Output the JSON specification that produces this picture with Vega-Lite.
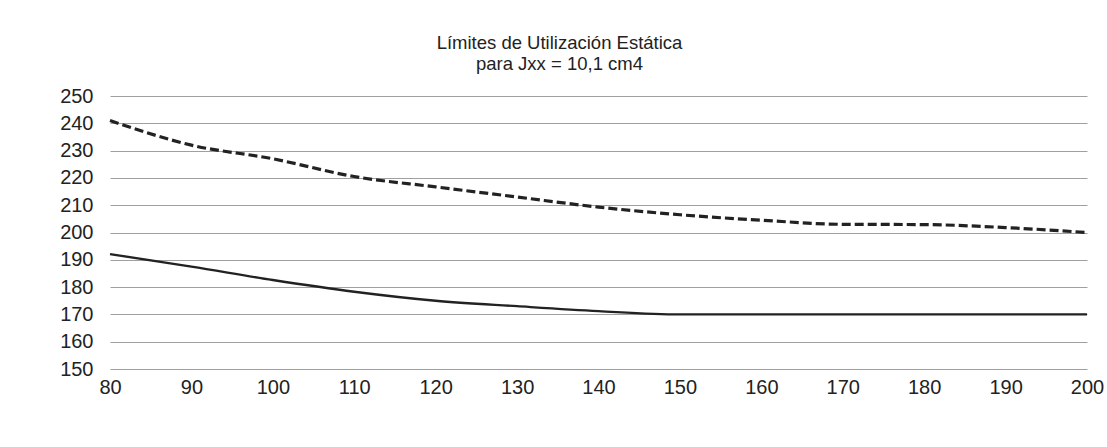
{
  "$schema": "https://vega.github.io/schema/vega-lite/v6.json",
  "width": 977,
  "height": 273,
  "autosize": {"type": "none"},
  "padding": {"left": 110, "top": 96, "right": 20, "bottom": 78},
  "background": "white",
  "title": {
    "text": ["Límites de Utilización Estática", "para Jxx = 10,1 cm4"],
    "font": "Liberation Sans",
    "fontSize": 18.5,
    "fontWeight": "normal",
    "color": "#222222",
    "lineHeight": 20.5,
    "anchor": "middle",
    "dx": -39,
    "offset": 13
  },
  "data": {
    "values": [
      {"x": 80, "serie": "dashed", "y": 241},
      {"x": 90, "serie": "dashed", "y": 232},
      {"x": 100, "serie": "dashed", "y": 227},
      {"x": 110, "serie": "dashed", "y": 220.5},
      {"x": 120, "serie": "dashed", "y": 216.7},
      {"x": 130, "serie": "dashed", "y": 213},
      {"x": 140, "serie": "dashed", "y": 209.3},
      {"x": 150, "serie": "dashed", "y": 206.5},
      {"x": 160, "serie": "dashed", "y": 204.5},
      {"x": 170, "serie": "dashed", "y": 203},
      {"x": 180, "serie": "dashed", "y": 202.9},
      {"x": 190, "serie": "dashed", "y": 201.8},
      {"x": 200, "serie": "dashed", "y": 200},
      {"x": 80, "serie": "solid", "y": 192.1},
      {"x": 90, "serie": "solid", "y": 187.5},
      {"x": 100, "serie": "solid", "y": 182.6},
      {"x": 110, "serie": "solid", "y": 178.3},
      {"x": 120, "serie": "solid", "y": 175},
      {"x": 130, "serie": "solid", "y": 173},
      {"x": 140, "serie": "solid", "y": 171.2},
      {"x": 150, "serie": "solid", "y": 170},
      {"x": 160, "serie": "solid", "y": 170},
      {"x": 170, "serie": "solid", "y": 170},
      {"x": 180, "serie": "solid", "y": 170},
      {"x": 190, "serie": "solid", "y": 170},
      {"x": 200, "serie": "solid", "y": 170}
    ]
  },
  "encoding": {
    "x": {
      "field": "x",
      "type": "quantitative",
      "scale": {"domain": [80, 200], "nice": false, "zero": false},
      "axis": {
        "title": null,
        "values": [80, 90, 100, 110, 120, 130, 140, 150, 160, 170, 180, 190, 200],
        "grid": false,
        "domain": false,
        "ticks": false,
        "labelPadding": 8,
        "labelFont": "Liberation Sans",
        "labelFontSize": 20,
        "labelColor": "#222222",
        "labelFlush": false,
        "labelOverlap": false
      }
    },
    "y": {
      "field": "y",
      "type": "quantitative",
      "scale": {"domain": [150, 250], "nice": false, "zero": false},
      "axis": {
        "title": null,
        "values": [150, 160, 170, 180, 190, 200, 210, 220, 230, 240, 250],
        "grid": true,
        "gridColor": "#a0a0a0",
        "gridWidth": 1.2,
        "gridOpacity": 1,
        "domain": false,
        "ticks": false,
        "labelPadding": 17,
        "labelFont": "Liberation Sans",
        "labelFontSize": 20,
        "labelColor": "#222222",
        "labelOverlap": false
      }
    }
  },
  "layer": [
    {
      "transform": [{"filter": "datum.serie === 'dashed'"}],
      "mark": {"type": "line", "interpolate": "monotone", "color": "#222222", "strokeWidth": 3.2, "strokeDash": [9, 4]}
    },
    {
      "transform": [{"filter": "datum.serie === 'solid'"}],
      "mark": {"type": "line", "interpolate": "monotone", "color": "#222222", "strokeWidth": 2.3}
    }
  ],
  "config": {"view": {"stroke": null}}
}
